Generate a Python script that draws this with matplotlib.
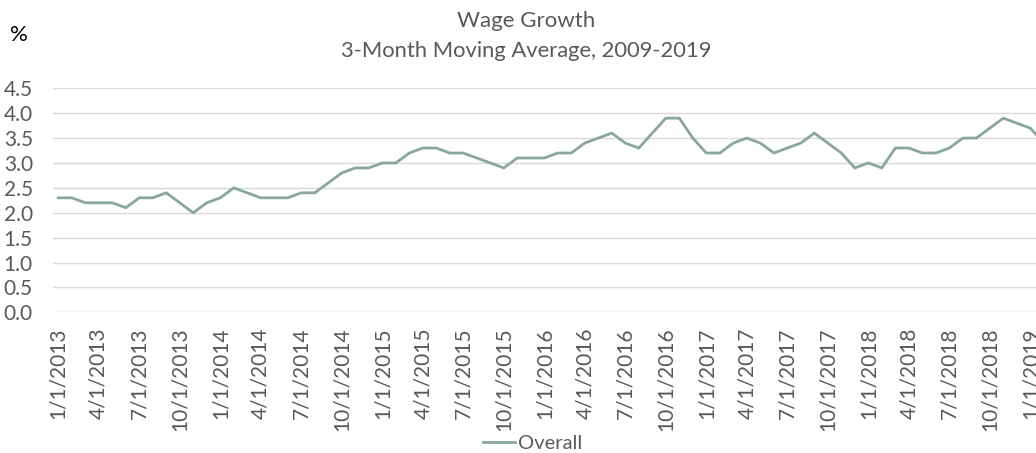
import matplotlib
matplotlib.use("Agg")
import matplotlib.pyplot as plt

# ---- data ----
values = [
    2.3, 2.3, 2.2, 2.2, 2.2, 2.1, 2.3, 2.3, 2.4, 2.2, 2.0, 2.2,   # 2013
    2.3, 2.5, 2.4, 2.3, 2.3, 2.3, 2.4, 2.4, 2.6, 2.8, 2.9, 2.9,   # 2014
    3.0, 3.0, 3.2, 3.3, 3.3, 3.2, 3.2, 3.1, 3.0, 2.9, 3.1, 3.1,   # 2015
    3.1, 3.2, 3.2, 3.4, 3.5, 3.6, 3.4, 3.3, 3.6, 3.9, 3.9, 3.5,   # 2016
    3.2, 3.2, 3.4, 3.5, 3.4, 3.2, 3.3, 3.4, 3.6, 3.4, 3.2, 2.9,   # 2017
    3.0, 2.9, 3.3, 3.3, 3.2, 3.2, 3.3, 3.5, 3.5, 3.7, 3.9, 3.8,   # 2018
    3.7, 3.4,                                                     # 2019
]
tick_labels = [
    "1/1/2013", "4/1/2013", "7/1/2013", "10/1/2013",
    "1/1/2014", "4/1/2014", "7/1/2014", "10/1/2014",
    "1/1/2015", "4/1/2015", "7/1/2015", "10/1/2015",
    "1/1/2016", "4/1/2016", "7/1/2016", "10/1/2016",
    "1/1/2017", "4/1/2017", "7/1/2017", "10/1/2017",
    "1/1/2018", "4/1/2018", "7/1/2018", "10/1/2018",
    "1/1/2019",
]
series_name = "Overall"
title_line1 = "Wage Growth"
title_line2 = "3-Month Moving Average, 2009-2019"
y_ticks = [0.0, 0.5, 1.0, 1.5, 2.0, 2.5, 3.0, 3.5, 4.0, 4.5]

plt.rcParams['font.family'] = ['Lato', 'DejaVu Sans']

W, H = 1036, 453
fig = plt.figure(figsize=(W / 100, H / 100), dpi=100)
left_px, right_px, top_px, bot_px = 53, 1036, 88.3, 312.3
ax = fig.add_axes([left_px / W, 1 - bot_px / H, (right_px - left_px) / W, (bot_px - top_px) / H])

line_color = "#8AA898"
text_color = "#595959"
x = list(range(len(values)))
ax.plot(x, values, color=line_color, lw=2.0, label=series_name, solid_joinstyle="miter")

ax.set_ylim(0, 4.5)
ax.set_xlim(-0.39, 72.42)
ax.set_yticks(y_ticks)
ax.set_yticklabels([f"{v:.1f}" for v in y_ticks])
ax.set_xticks(list(range(0, 3 * len(tick_labels), 3)))
ax.set_xticklabels(tick_labels, rotation=90)
ax.tick_params(axis="both", length=0, labelsize=15, colors=text_color)
ax.tick_params(axis="x", pad=11)
ax.tick_params(axis="y", pad=14.5)
ax.grid(axis="y", color="#D9D9D9", lw=1)
ax.set_axisbelow(True)
for s in ax.spines.values():
    s.set_visible(False)

fig.text(526 / W, 1 - 21 / H, title_line1, ha="center", va="center", fontsize=16, color=text_color)
fig.text(526 / W, 1 - 51 / H, title_line2, ha="center", va="center", fontsize=15.8, color=text_color)
fig.text(19 / W, 1 - 35 / H, "%", ha="center", va="center", fontsize=16, color="black")

fig.legend(loc="center", bbox_to_anchor=(533 / W, 1 - 443 / H), frameon=False,
           fontsize=14.5, labelcolor=text_color, handlelength=1.6, handletextpad=0.15)

fig.savefig("out.png", dpi=100)
